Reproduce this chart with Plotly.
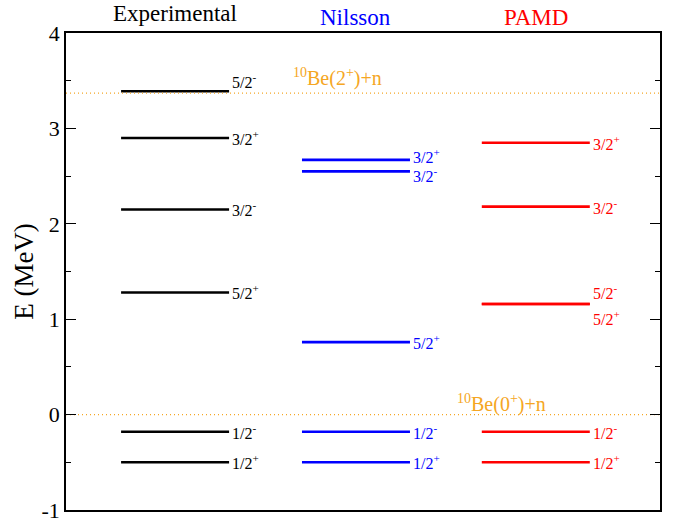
import plotly.graph_objects as go

# ---- data ----
columns = ["Experimental", "Nilsson", "PAMD"]
column_colors = ["black", "blue", "red"]

exp_E = [3.39, 2.90, 2.15, 1.28, -0.18, -0.50]
exp_J = ["5/2<sup>-</sup>", "3/2<sup>+</sup>", "3/2<sup>-</sup>", "5/2<sup>+</sup>", "1/2<sup>-</sup>", "1/2<sup>+</sup>"]

nil_E = [2.67, 2.55, 0.76, -0.18, -0.50]
nil_J = ["3/2<sup>+</sup>", "3/2<sup>-</sup>", "5/2<sup>+</sup>", "1/2<sup>-</sup>", "1/2<sup>+</sup>"]

pamd_E = [2.85, 2.18, 1.16, 1.16, -0.18, -0.50]
pamd_J = ["3/2<sup>+</sup>", "3/2<sup>-</sup>", "5/2<sup>-</sup>", "5/2<sup>+</sup>", "1/2<sup>-</sup>", "1/2<sup>+</sup>"]

thresholds_E = [3.37, 0.0]
thresholds_label = ["<sup>10</sup>Be(2<sup>+</sup>)+n", "<sup>10</sup>Be(0<sup>+</sup>)+n"]

y_ticks = [-1, 0, 1, 2, 3, 4]
y_ticktext = ["-1", "0", "1", "2", "3", "4"]

# ---- layout constants ----
col_x = [(0.51, 1.51), (2.185, 3.185), (3.85, 4.85)]
x_range = [0, 5.5]
label_shift = [
    [10, 0, 0, 0, 0, 0],
    [4, -4, 0, 0, 0],
    [0, 0, 12, -14, 0, 0],
]
title_shift = [5, 1, 1]
FONT = "Times New Roman, Liberation Serif, serif"
thr_color = "#F5A623"

fig = go.Figure()

levels = [(exp_E, exp_J), (nil_E, nil_J), (pamd_E, pamd_J)]
annotations = []
for ci, (E, J) in enumerate(levels):
    x0, x1 = col_x[ci]
    xs, ys = [], []
    for e in E:
        xs += [x0, x1, None]
        ys += [e, e, None]
    fig.add_trace(go.Scatter(x=xs, y=ys, mode="lines",
                             line=dict(color=column_colors[ci], width=2.6),
                             hoverinfo="skip", showlegend=False))
    for k, (e, j) in enumerate(zip(E, J)):
        annotations.append(dict(x=x1, y=e, text=j, showarrow=False,
                                xanchor="left", yanchor="middle", xshift=1,
                                yshift=label_shift[ci][k],
                                font=dict(family=FONT, size=16, color=column_colors[ci])))
    xc = (x0 + x1) / 2
    annotations.append(dict(x=xc, y=1, yref="paper", text=columns[ci], showarrow=False,
                            xanchor="center", yanchor="bottom", yshift=title_shift[ci],
                            font=dict(family=FONT, size=23, color=column_colors[ci])))

for e in thresholds_E:
    fig.add_trace(go.Scatter(x=x_range, y=[e, e], mode="lines",
                             line=dict(color=thr_color, width=1.3, dash="1px,3px"),
                             hoverinfo="skip", showlegend=False))

annotations.append(dict(x=2.08, y=thresholds_E[0], text=thresholds_label[0], showarrow=False,
                        xanchor="left", yanchor="bottom", yshift=1,
                        font=dict(family=FONT, size=20, color=thr_color)))
annotations.append(dict(x=3.6, y=thresholds_E[1], text=thresholds_label[1], showarrow=False,
                        xanchor="left", yanchor="bottom", yshift=-3,
                        font=dict(family=FONT, size=20, color=thr_color)))

fig.update_layout(
    width=681, height=520,
    margin=dict(l=66, r=21, t=33, b=10),
    paper_bgcolor="white", plot_bgcolor="white",
    annotations=annotations,
    xaxis=dict(range=x_range, showgrid=False, zeroline=False, showticklabels=False,
               ticks="", showline=True, linecolor="black", linewidth=1.5, mirror=True,
               fixedrange=True, automargin=False),
    yaxis=dict(range=[-1, 4], tickvals=y_ticks, ticktext=y_ticktext,
               showgrid=False, zeroline=False,
               ticks="inside", ticklen=10, tickwidth=1.2, tickcolor="black",
               minor=dict(dtick=0.5, ticks="inside", ticklen=5, tickwidth=1.2, tickcolor="black"),
               showline=True, linecolor="black", linewidth=1.5, mirror="ticks",
               ticklabeloverflow="allow", automargin=False,
               tickfont=dict(family=FONT, size=22, color="black"),
               title=dict(text="E (MeV)", font=dict(family=FONT, size=27, color="black"), standoff=0),
               fixedrange=True),
)

fig.write_html("out.html")
